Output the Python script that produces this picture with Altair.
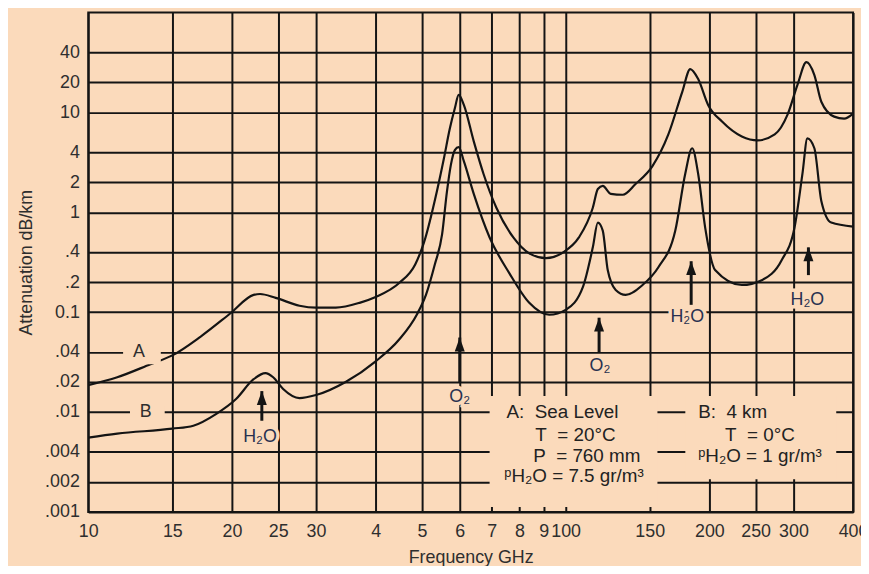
import altair as alt
import pandas as pd

BG = "#FBDABB"
INK = "#141414"
FONT = "Liberation Sans, Arial, Helvetica, sans-serif"

# ---- curve A (sea level) ----
freq_a = [10.0, 11.5, 13.5, 15.0, 17.2, 19.8, 22.2, 22.9, 24.7, 27.7,
          30.0, 33.0, 37.0, 40.0, 44.8, 48.4, 50.5, 53.7, 55.6, 57.2,
          58.6, 59.7, 61.2, 64.2, 67.3, 71.6, 77.7, 83.9, 91.0, 98.8,
          106.6, 114.0, 116.8, 119.6, 124.3, 131.7, 140.1, 152.0, 164.1, 175.5,
          182.4, 189.5, 198.8, 212.6, 233.9, 252.6, 274.1, 291.6, 305.9, 319.4,
          331.9, 343.2, 365.2, 383.1, 400.0]
att_a = [0.0186, 0.0223, 0.0301, 0.0369, 0.057, 0.0964, 0.149, 0.152, 0.139, 0.116,
         0.111, 0.111, 0.124, 0.142, 0.196, 0.30, 0.50, 1.6, 3.48, 6.9,
         11.0, 15.0, 11.9, 5.13, 2.42, 1.11, 0.56, 0.388, 0.347, 0.397,
         0.56, 1.11, 1.71, 1.84, 1.53, 1.50, 1.92, 2.90, 6.02, 16.1,
         27.2, 21.6, 11.9, 8.11, 5.75, 5.25, 6.02, 9.51, 18.9, 31.9,
         23.7, 12.8, 9.08, 8.67, 9.73]

# ---- curve B (4 km) ----
freq_b = [10.0, 11.5, 15.0, 16.6, 18.55, 20.4, 22.2, 23.5, 24.4, 25.6,
          27.7, 30.0, 34.6, 40.0, 44.8, 48.8, 51.0, 53.2, 55.1, 56.4,
          57.5, 58.6, 59.7, 61.2, 64.2, 69.3, 76.2, 83.9, 92.4, 100.2,
          108.7, 114.0, 116.8, 119.6, 122.5, 127.3, 133.6, 144.9, 156.4, 169.7,
          178.0, 184.1, 189.5, 196.0, 205.6, 233.9, 257.5, 283.4, 301.6, 313.3,
          320.9, 331.9, 343.2, 360.0, 400.0]
att_b = [0.00554, 0.00608, 0.00681, 0.0073, 0.0096, 0.0135, 0.0213, 0.0245, 0.0223, 0.017,
         0.0138, 0.0148, 0.020, 0.0322, 0.0532, 0.095, 0.15, 0.30, 0.60, 1.6,
         3.0, 4.2, 4.5, 3.25, 1.53, 0.56, 0.246, 0.124, 0.0942, 0.106,
         0.179, 0.446, 0.789, 0.656, 0.264, 0.167, 0.149, 0.187, 0.282, 0.656,
         2.42, 4.38, 2.42, 0.703, 0.264, 0.187, 0.209, 0.331, 0.703, 2.42,
         5.5, 4.38, 1.30, 0.789, 0.72]

# ---- axis ticks ----
x_ticks = [10, 15, 20, 25, 30, 40, 50, 60, 70, 80, 90, 100, 150, 200, 250, 300, 400]
x_labels = ["10", "15", "20", "25", "30", "4", "5", "6", "7", "8", "9", "100",
            "150", "200", "250", "300", "400"]
y_ticks = [0.001, 0.002, 0.004, 0.01, 0.02, 0.04, 0.1, 0.2, 0.4, 1, 2, 4, 10, 20, 40]
y_labels = [".001", ".002", ".004", ".01", ".02", ".04", "0.1", ".2", ".4", "1", "2",
            "4", "10", "20", "40"]

# ---- absorption-line arrows and labels ----
arrow_x = [23.1, 60.0, 117.5, 183.2, 322.5]
arrow_tip = [0.0162, 0.0557, 0.088, 0.3236, 0.4457]
arrow_base = [0.00818, 0.0200, 0.0395, 0.1184, 0.235]
ann_text = ["H\u2082O", "O\u2082", "O\u2082", "H\u2082O", "H\u2082O"]
ann_x = [22.9, 60.0, 118.0, 179.8, 320.9]
ann_y = [0.00568, 0.01416, 0.0287, 0.090, 0.1327]

# ---- curve name labels ----
ab_text = ["A", "B"]
ab_x = [12.77, 13.2]
ab_y = [0.0395, 0.0101]

# ---- legend block ----
NB = "\u00a0"
leg_text = ["A:" + NB * 2 + "Sea Level", "T" + NB * 2 + "= 20\u00b0C", "P" + NB * 2 + "= 760 mm",
            "\u1d56H\u2082O = 7.5 gr/m\u00b3", "B:" + NB * 2 + "4 km", "T" + NB * 2 + "= 0\u00b0C",
            "\u1d56H\u2082O = 1 gr/m\u00b3"]
leg_x = [75.2, 86.4, 85.5, 74.4, 189.5, 215.7, 189.5]
leg_y = [0.0101, 0.00585, 0.00362, 0.00228, 0.0101, 0.00585, 0.00365]

# ---- background patches that break the grid behind labels ----
mask_x = [69.3, 178.1, 11.83, 12.23]
mask_x2 = [155.7, 368.8, 14.19, 14.46]
mask_y = [0.00112, 0.002123, 0.0301, 0.0080]
mask_y2 = [0.0145, 0.0145, 0.0434, 0.01152]


def label_expr(vals, labels):
    expr = "''"
    for v, l in reversed(list(zip(vals, labels))):
        expr = f"datum.value == {v} ? '{l}' : {expr}"
    return expr


curves = pd.concat([
    pd.DataFrame({"freq": freq_a, "att": att_a, "curve": "A"}),
    pd.DataFrame({"freq": freq_b, "att": att_b, "curve": "B"}),
])
curves["ord"] = range(len(curves))

xscale = alt.Scale(type="log", domain=[10, 400], nice=False)
yscale = alt.Scale(type="log", domain=[0.001, 100], nice=False)

xaxis = alt.Axis(values=x_ticks, labelExpr=label_expr(x_ticks, x_labels), grid=True,
                 gridColor=INK, gridWidth=2, ticks=False, domain=False,
                 labelFont=FONT, labelFontSize=18, labelColor="#2e2e2e", labelPadding=11,
                 labelOverlap=False, labelFlush=False, title="Frequency GHz",
                 titleFont=FONT, titleFontSize=18, titleFontWeight="normal",
                 titleColor="#2e2e2e", titleY=51, titleBaseline="alphabetic")
yaxis = alt.Axis(values=y_ticks, labelExpr=label_expr(y_ticks, y_labels), grid=True,
                 gridColor=INK, gridWidth=2, ticks=False, domain=False,
                 labelFont=FONT, labelFontSize=18, labelColor="#2e2e2e", labelPadding=9,
                 labelOverlap=False, labelFlush=False, title="Attenuation dB/km",
                 titleFont=FONT, titleFontSize=18, titleFontWeight="normal",
                 titleColor="#2e2e2e", titleAngle=270, titleX=-57, titleY=252,
                 titleBaseline="alphabetic")

lines = alt.Chart(curves).mark_line(interpolate="monotone", color=INK, strokeWidth=2.2).encode(
    x=alt.X("freq:Q", scale=xscale, axis=xaxis),
    y=alt.Y("att:Q", scale=yscale, axis=yaxis),
    detail="curve:N",
    order="ord:Q",
)

masks = alt.Chart(pd.DataFrame({"x": mask_x, "x2": mask_x2, "y": mask_y, "y2": mask_y2})).mark_rect(
    color=BG).encode(x=alt.X("x:Q", scale=xscale), x2="x2:Q",
                     y=alt.Y("y:Q", scale=yscale), y2="y2:Q")

arrows_df = pd.DataFrame({"x": arrow_x, "tip": arrow_tip, "base": arrow_base})
shafts = alt.Chart(arrows_df).mark_rule(color=INK, strokeWidth=3).encode(
    x=alt.X("x:Q", scale=xscale), y=alt.Y("tip:Q", scale=yscale), y2="base:Q")
heads = alt.Chart(arrows_df).mark_point(shape="M0,0L0.72,2L-0.72,2Z", filled=True, size=196,
                                        color=INK, opacity=1).encode(
    x=alt.X("x:Q", scale=xscale), y=alt.Y("tip:Q", scale=yscale))

ann_df = pd.DataFrame({"x": ann_x, "y": ann_y, "t": ann_text})
ann_halo = alt.Chart(ann_df).mark_text(font=FONT, fontSize=18, stroke=BG, strokeWidth=7,
                                       color=BG).encode(
    x=alt.X("x:Q", scale=xscale), y=alt.Y("y:Q", scale=yscale), text="t:N")
ann = alt.Chart(ann_df).mark_text(font=FONT, fontSize=18, color="#283150").encode(
    x=alt.X("x:Q", scale=xscale), y=alt.Y("y:Q", scale=yscale), text="t:N")

ab = alt.Chart(pd.DataFrame({"x": ab_x, "y": ab_y, "t": ab_text})).mark_text(
    font=FONT, fontSize=18, color="#2e2e2e").encode(
    x=alt.X("x:Q", scale=xscale), y=alt.Y("y:Q", scale=yscale), text="t:N")

leg = alt.Chart(pd.DataFrame({"x": leg_x, "y": leg_y, "t": leg_text})).mark_text(
    font=FONT, fontSize=19, color="#222222", align="left").encode(
    x=alt.X("x:Q", scale=xscale), y=alt.Y("y:Q", scale=yscale), text="t:N")

chart = alt.layer(lines, masks, shafts, heads, ann_halo, ann, ab, leg).properties(
    width=772, height=504,
    autosize=alt.AutoSizeParams(type="none"),
    padding={"left": 81, "top": 2, "right": 8, "bottom": 52},
    background=BG,
).configure_view(fill=BG, stroke=INK, strokeWidth=2)

chart.save("out.html", embed_options={"renderer": "svg", "actions": False})
